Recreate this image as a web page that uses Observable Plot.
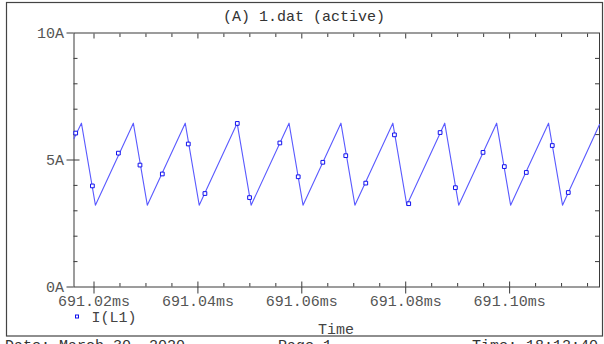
<!DOCTYPE html>
<html>
<head>
<meta charset="utf-8">
<script src="https://cdn.jsdelivr.net/npm/d3@7"></script>
<script src="https://cdn.jsdelivr.net/npm/@observablehq/plot@0.6"></script>
<style>
  html, body { margin: 0; padding: 0; background: white; }
  #chart { position: relative; width: 604px; height: 344px; overflow: hidden; }
  svg { display: block; }
</style>
</head>
<body>
<div id="chart"></div>
<script>
// Waveform vertices of I(L1): time (ms) and current (A)
const waveTime = [691.01615, 691.01758, 691.02027, 691.02757, 691.03026, 691.03756, 691.04025,
  691.04755, 691.05024, 691.05754, 691.06023, 691.06753, 691.07022, 691.07752, 691.08021,
  691.08751, 691.09020, 691.09750, 691.10019, 691.10749, 691.11018, 691.11730];
const waveCurrent = [5.85, 6.45, 3.22, 6.45, 3.22, 6.45, 3.22,
  6.45, 3.22, 6.45, 3.22, 6.45, 3.22, 6.45, 3.22,
  6.45, 3.22, 6.45, 3.22, 6.45, 3.22, 6.40];

// Marker samples on the trace
const markerTime = [691.01648, 691.01969, 691.02469, 691.02885, 691.03315, 691.03815, 691.04135,
  691.04758, 691.04994, 691.05577, 691.05931, 691.06404, 691.06846, 691.07231, 691.07783,
  691.08058, 691.08662, 691.08956, 691.09488, 691.09898, 691.10321, 691.10821, 691.11129];
const markerCurrent = [6.06, 3.98, 5.27, 4.80, 4.45, 5.63, 3.68,
  6.44, 3.52, 5.67, 4.34, 4.91, 5.17, 4.09, 5.99,
  3.28, 6.08, 3.91, 5.30, 4.74, 4.51, 5.57, 3.72];

// Axis ticks
const xMajor = [691.02, 691.04, 691.06, 691.08, 691.10];
const xMinor = [691.025, 691.03, 691.035, 691.045, 691.05, 691.055, 691.065, 691.07, 691.075,
  691.085, 691.09, 691.095, 691.105, 691.11, 691.115];
const xDomain = [691.01615, 691.1173];
const yMajor = [0, 5, 10];
const yMinor = [1, 2, 3, 4, 6, 7, 8, 9];
const yAll = [1, 2, 3, 4, 5, 6, 7, 8, 9];
const yDomain = [0, 10];

const titleText = "(A) 1.dat (active)";
const legendText = "I(L1)";
const xLabel = "Time";
const footerDate = "Date: March 30, 2020";
const footerPage = "Page 1";
const footerTime = "Time: 18:12:40";

const wave = waveTime.map((t, i) => ({t, v: waveCurrent[i]}));
const markers = markerTime.map((t, i) => ({t, v: markerCurrent[i]}));

const axisColor = "#3a3a3a";
const blank = () => "";

const plot = Plot.plot({
  width: 604,
  height: 344,
  marginLeft: 73.5,
  marginRight: 5,
  marginTop: 32.5,
  marginBottom: 57.5,
  style: {fontFamily: "'Liberation Mono', 'DejaVu Sans Mono', monospace", fontSize: "15px", color: "#555", background: "white", overflow: "visible"},
  x: {domain: xDomain},
  y: {domain: yDomain},
  marks: [
    Plot.frame({stroke: axisColor}),
    Plot.axisX(xMajor, {anchor: "bottom", tickSize: 7, tickPadding: 1, stroke: axisColor, tickFormat: d => d.toFixed(2) + "ms", fill: "#555", label: null}),
    Plot.axisX(xMajor, {anchor: "bottom", tickSize: -5, stroke: axisColor, tickFormat: blank, label: null}),
    Plot.axisX(xMinor, {anchor: "bottom", tickSize: -3.5, stroke: axisColor, tickFormat: blank, label: null}),
    Plot.axisX(xMajor, {anchor: "top", tickSize: -5, stroke: axisColor, tickFormat: blank, label: null}),
    Plot.axisX(xMinor, {anchor: "top", tickSize: -3.5, stroke: axisColor, tickFormat: blank, label: null}),
    Plot.axisY(yMajor, {anchor: "left", tickSize: 7, tickPadding: 3, stroke: axisColor, tickFormat: d => d + "A", fill: "#555", label: null}),
    Plot.axisY([5], {anchor: "left", tickSize: -6, stroke: axisColor, tickFormat: blank, label: null}),
    Plot.axisY(yMinor, {anchor: "left", tickSize: -4, stroke: axisColor, tickFormat: blank, label: null}),
    Plot.axisY(yAll, {anchor: "right", tickSize: -5, stroke: axisColor, tickFormat: blank, label: null}),
    Plot.line(wave, {x: "t", y: "v", stroke: "#5a5aff", strokeWidth: 1.1}),
    Plot.dot(markers, {x: "t", y: "v", symbol: "square", r: 2.1, stroke: "#1010ee", strokeWidth: 1, fill: "white"})
  ]
});

document.getElementById("chart").appendChild(plot);

// Decorations: outer frame, title, legend, axis title, footer
const svg = d3.select(plot);
const deco = svg.append("g").attr("text-anchor", "start");
deco.append("rect").attr("x", 6.5).attr("y", 2.5).attr("width", 596).attr("height", 333.5)
  .attr("fill", "none").attr("stroke", "#444").attr("stroke-width", 1.2);
const font = "'Liberation Mono', 'DejaVu Sans Mono', monospace";
deco.append("text").attr("x", 304).attr("y", 21).attr("text-anchor", "middle")
  .attr("font-family", font).attr("font-size", 15).attr("fill", "#333").text(titleText);
deco.append("rect").attr("x", 75.5).attr("y", 315).attr("width", 3).attr("height", 3)
  .attr("fill", "white").attr("stroke", "#1010ee").attr("stroke-width", 1);
deco.append("text").attr("x", 91.5).attr("y", 321.5).attr("text-anchor", "start")
  .attr("font-family", font).attr("font-size", 15).attr("fill", "#444").text(legendText);
deco.append("text").attr("x", 336).attr("y", 334).attr("text-anchor", "middle")
  .attr("font-family", font).attr("font-size", 15).attr("fill", "#444").text(xLabel);
const foot = [[5, footerDate], [278, footerPage], [472, footerTime]];
foot.forEach(([x, s]) => deco.append("text").attr("x", x).attr("y", 350).attr("text-anchor", "start")
  .attr("font-family", font).attr("font-size", 15).attr("fill", "#333").text(s));
</script>
</body>
</html>
